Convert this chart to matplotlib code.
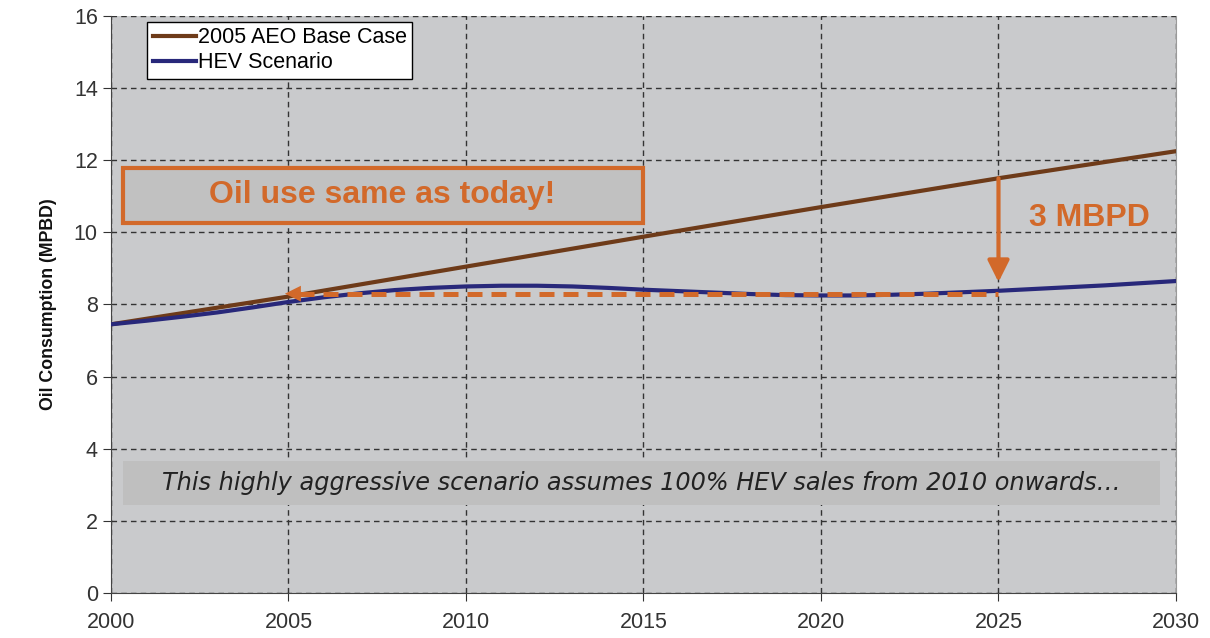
import matplotlib.pyplot as plt
from matplotlib.patches import Rectangle

plt.rcParams["font.family"] = ["Liberation Sans", "DejaVu Sans"]

# data
base_years = [2000, 2005, 2010, 2015, 2020, 2025, 2030]
base_case = [7.45, 8.22, 9.05, 9.88, 10.7, 11.5, 12.25]

hev_years = list(range(2000, 2031))
hev_scenario = [7.45, 7.55, 7.66, 7.78, 7.92, 8.07, 8.2, 8.31, 8.4, 8.46,
                8.5, 8.52, 8.52, 8.5, 8.46, 8.41, 8.37, 8.33, 8.29, 8.26,
                8.25, 8.25, 8.27, 8.3, 8.34, 8.38, 8.43, 8.48, 8.53, 8.59, 8.65]

today_level = 8.3
gap_year = 2025
gap_top = 11.5
gap_bottom = 8.62

BROWN = "#6e3b19"
NAVY = "#28287a"
ORANGE = "#d2692a"

fig = plt.figure(figsize=(12.1, 6.38), dpi=100)
ax = fig.add_axes([0.0917, 0.0705, 0.8802, 0.9045])
ax.set_facecolor("#c9cacc")

ax.plot(base_years, base_case, color=BROWN, lw=3, label="2005 AEO Base Case", zorder=3)
ax.plot(hev_years, hev_scenario, color=NAVY, lw=3, label="HEV Scenario", zorder=3)

# dashed "same as today" line with arrow head
ax.plot([2005.3, gap_year], [today_level, today_level], color=ORANGE, lw=3.6,
        dashes=(3, 1.8), zorder=4)
ax.annotate("", xy=(2004.9, today_level), xytext=(2005.7, today_level),
            arrowprops=dict(arrowstyle="-|>,head_length=1.15,head_width=0.57",
                            color=ORANGE, lw=0, shrinkA=0, shrinkB=0), zorder=5)

# vertical gap arrow
ax.annotate("", xy=(gap_year, gap_bottom), xytext=(gap_year, gap_top),
            arrowprops=dict(arrowstyle="-|>,head_length=1.3,head_width=0.65",
                            color=ORANGE, lw=3, shrinkA=0, shrinkB=0), zorder=5)
ax.text(2027.55, 10.4, "3 MBPD", color=ORANGE, fontsize=23, fontweight="bold",
        ha="center", va="center")

# callout boxes
ax.add_patch(Rectangle((2000.33, 10.27), 14.65, 1.52, facecolor="#c1c1c1",
                       edgecolor=ORANGE, lw=3, zorder=4))
ax.text(2007.65, 11.03, "Oil use same as today!", color=ORANGE, fontsize=23,
        fontweight="bold", ha="center", va="center", zorder=5)

ax.add_patch(Rectangle((2000.35, 2.45), 29.2, 1.2, facecolor="#bfbfbf",
                       edgecolor="none", zorder=4))
ax.text(2014.95, 3.05,
        "This highly aggressive scenario assumes 100% HEV sales from 2010 onwards\u2026",
        fontsize=17.3, style="italic", color="#222222", ha="center", va="center",
        family=["DejaVu Sans"], zorder=5)

ax.set_xlim(2000, 2030)
ax.set_ylim(0, 16)
ax.set_xticks(range(2000, 2031, 5))
ax.set_yticks(range(0, 17, 2))
ax.tick_params(labelsize=15.5, color="#333333", labelcolor="#333333",
               length=6, direction="out")
ax.tick_params(axis="x", pad=8)
ax.set_ylabel("Oil Consumption (MPBD)", fontsize=12.8, fontweight="bold",
              color="#111111", labelpad=12)
ax.grid(True, color="#333333", linestyle=(0, (4, 3)), lw=1)
ax.set_axisbelow(True)

ax.spines["top"].set_visible(False)
ax.spines["right"].set_color("#9a9a9a")
ax.spines["left"].set_color("#444444")
ax.spines["bottom"].set_color("#444444")

leg = ax.legend(loc="upper left", bbox_to_anchor=(0.034, 0.99), borderaxespad=0,
                fontsize=15.5, frameon=True, fancybox=False, edgecolor="black",
                framealpha=1, handlelength=2.0, handletextpad=0.1, borderpad=0.25,
                labelspacing=0.2)
leg.get_frame().set_linewidth(1)

plt.savefig("out.png", dpi=100)
plt.close()
